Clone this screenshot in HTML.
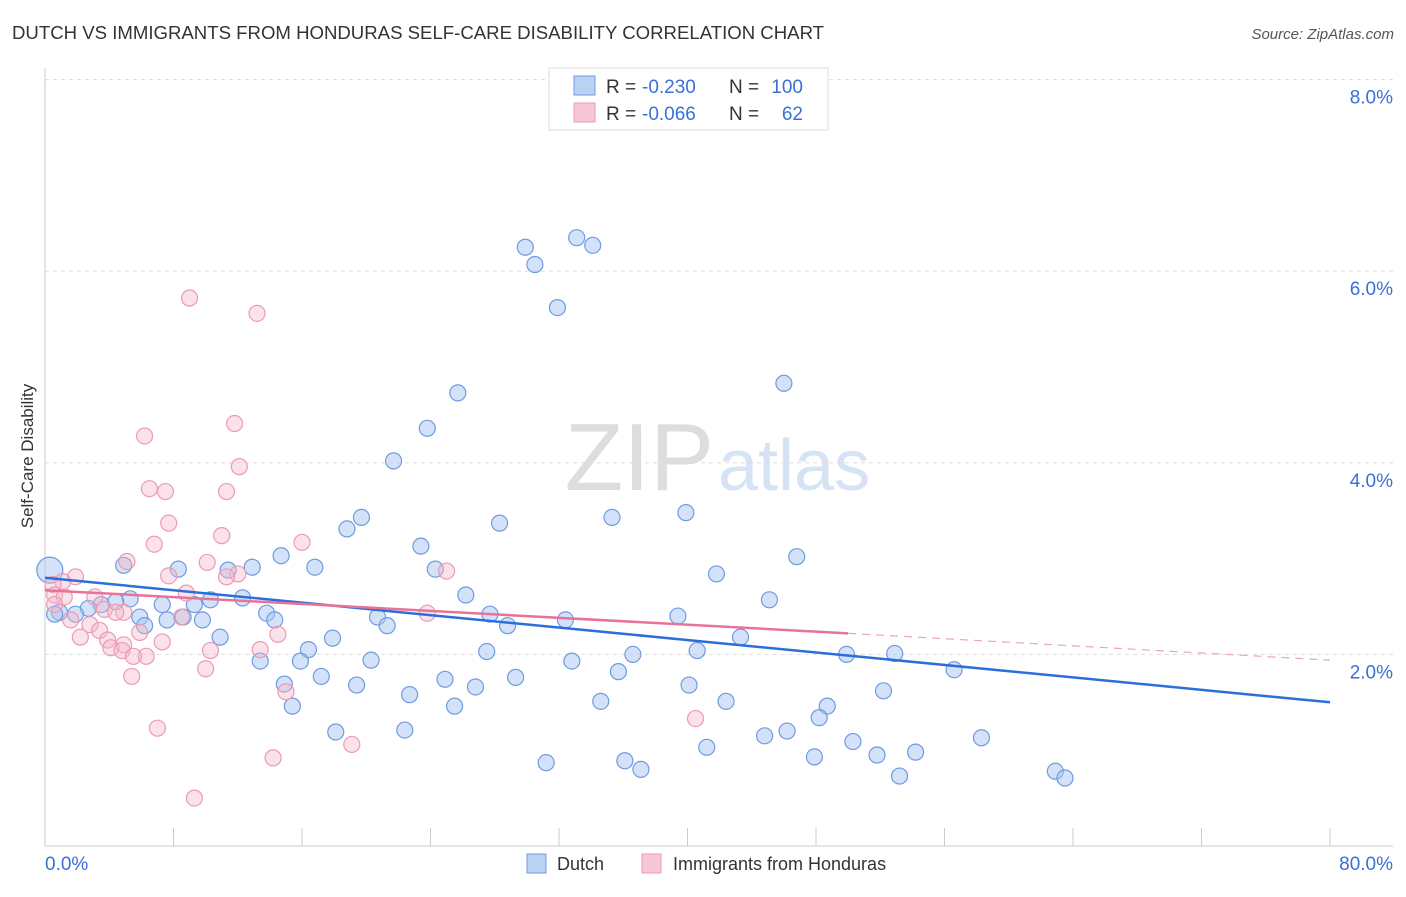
<!DOCTYPE html>
<html><head><meta charset="utf-8"><style>
body{margin:0;background:#fff;font-family:"Liberation Sans",sans-serif;}
svg text{font-family:"Liberation Sans",sans-serif;}
</style></head><body>
<svg id="chart" width="1406" height="892">
<text x="12" y="39" font-size="18.6" fill="#333">DUTCH VS IMMIGRANTS FROM HONDURAS SELF-CARE DISABILITY CORRELATION CHART</text>
<text x="1394" y="39" font-size="15" fill="#555" font-style="italic" text-anchor="end">Source: ZipAtlas.com</text>
<text x="33" y="456" font-size="17" fill="#333" text-anchor="middle" transform="rotate(-90 33 456)">Self-Care Disability</text>
<text x="714" y="490" font-size="96" fill="#ddd" text-anchor="end" font-family="Liberation Serif">ZIP</text>
<text x="718" y="490" font-size="72" fill="#d5e3f5">atlas</text>
<g id="grid"></g><g id="axes"></g><g id="pts"></g><g id="trends"></g>
<g>
<rect x="549" y="68" width="279" height="62" fill="#fff" stroke="#ddd"/>
<rect x="574" y="76" width="21" height="19" fill="#b9d1f3" stroke="#6f9be0"/>
<rect x="574" y="103" width="21" height="19" fill="#f8c7d6" stroke="#ec9ab5"/>
<text x="606" y="93" font-size="19" fill="#333">R =</text>
<text x="642" y="93" font-size="19" fill="#3a6fd8">-0.230</text>
<text x="729" y="93" font-size="19" fill="#333">N =</text>
<text x="803" y="93" font-size="19" fill="#3a6fd8" text-anchor="end">100</text>
<text x="606" y="120" font-size="19" fill="#333">R =</text>
<text x="642" y="120" font-size="19" fill="#3a6fd8">-0.066</text>
<text x="729" y="120" font-size="19" fill="#333">N =</text>
<text x="803" y="120" font-size="19" fill="#3a6fd8" text-anchor="end">62</text>
</g>
<g>
<rect x="527" y="854" width="19" height="19" fill="#b9d1f3" stroke="#6f9be0"/>
<text x="557" y="870" font-size="18" fill="#333">Dutch</text>
<rect x="642" y="854" width="19" height="19" fill="#f8c7d6" stroke="#ec9ab5"/>
<text x="673" y="870" font-size="18" fill="#333">Immigrants from Honduras</text>
</g>
</svg>
<script>
const yTicks=[2,4,6,8];
const xTickLabels=["0.0%","80.0%"];
const dutchX=[29.9,30.5,33.1,34.1,31.9,46.0,25.7,23.8,21.7,19.7,18.8,28.3,35.3,39.9,23.4,46.8,14.7,12.9,11.4,8.3,4.9,16.8,24.3,41.8,26.2,45.1,12.3,10.3,7.3,5.3,4.4,3.5,2.7,1.9,0.9,0.6,9.3,8.6,7.6,9.8,5.9,6.2,13.8,14.3,20.7,21.3,27.7,28.8,32.4,39.4,10.9,17.9,43.3,16.4,27.5,36.6,40.6,49.9,52.9,13.4,15.9,20.3,32.8,56.6,35.7,17.2,29.3,14.9,19.4,24.9,26.8,40.1,52.2,22.7,34.6,42.4,15.4,25.5,48.7,48.2,18.1,22.4,46.2,44.8,58.3,50.3,41.2,54.2,51.8,47.9,31.2,36.1,37.1,53.2,62.9,63.5];
const dutchY=[6.25,6.07,6.35,6.27,5.62,4.83,4.73,4.36,4.02,3.43,3.31,3.37,3.43,3.48,3.13,3.02,3.03,2.91,2.88,2.89,2.93,2.91,2.89,2.84,2.62,2.57,2.59,2.57,2.52,2.58,2.55,2.52,2.48,2.42,2.44,2.42,2.52,2.39,2.36,2.36,2.39,2.30,2.43,2.36,2.39,2.30,2.42,2.30,2.36,2.40,2.18,2.17,2.18,2.05,2.03,2.00,2.04,2.00,2.01,1.93,1.93,1.94,1.93,1.84,1.82,1.77,1.76,1.69,1.68,1.74,1.66,1.68,1.62,1.58,1.51,1.51,1.46,1.46,1.46,1.34,1.19,1.21,1.20,1.15,1.13,1.09,1.03,0.98,0.95,0.93,0.87,0.89,0.80,0.73,0.78,0.71];
const hondX=[9.0,13.2,11.8,6.2,12.1,6.5,7.5,11.3,7.7,11.0,6.8,16.0,5.1,10.1,25.0,12.0,11.3,7.7,1.9,1.1,0.5,0.6,1.2,3.1,8.8,0.6,3.7,4.9,4.4,8.5,23.8,1.6,2.8,3.4,5.9,14.5,2.2,3.9,4.9,7.3,4.1,13.4,10.3,4.8,6.3,5.5,10.0,5.4,15.0,40.5,7.0,19.1,14.2,9.3];
const hondY=[5.72,5.56,4.41,4.28,3.96,3.73,3.70,3.70,3.37,3.24,3.15,3.17,2.97,2.96,2.87,2.84,2.81,2.82,2.81,2.76,2.73,2.62,2.60,2.60,2.64,2.52,2.47,2.44,2.44,2.39,2.43,2.36,2.31,2.25,2.23,2.21,2.18,2.15,2.10,2.13,2.07,2.05,2.04,2.04,1.98,1.98,1.85,1.77,1.61,1.33,1.23,1.06,0.92,0.50];
const dutchTrend=[2.80,1.50];
const hondTrend=[2.67,2.22,1.94];
const X0=45,X1=1330,xs=v=>X0+(X1-X0)*v/80;
const ys=v=>846-95.8*v;
const NS="http://www.w3.org/2000/svg";
function mk(tag,attrs,parent){const e=document.createElementNS(NS,tag);for(const k in attrs)e.setAttribute(k,attrs[k]);document.getElementById(parent).appendChild(e);return e;}
yTicks.forEach(t=>{
 const l=mk('line',{x1:45,x2:1393,y1:ys(t),y2:ys(t),stroke:'#ddd','stroke-dasharray':'4,4'},'grid');
 
 
 const tx=mk('text',{x:1393,y:ys(t)+24,'font-size':19,fill:'#3a6fd8','text-anchor':'end'},'grid');
 tx.textContent=t.toFixed(1)+'%';
 
 
});
const ax=mk('line',{x1:45,x2:45,y1:68,y2:846,stroke:'#ccc'},'axes');


const bx=mk('line',{x1:45,x2:1393,y1:846,y2:846,stroke:'#ccc'},'axes');


for(let i=0;i<=10;i++){const t=mk('line',{x1:xs(i*8),x2:xs(i*8),y1:828,y2:846,stroke:'#ccc'},'axes');
 
 }
xTickLabels.forEach((s,i)=>{const t=mk('text',{x:i?1393:45,y:870,'font-size':19,fill:'#3a6fd8','text-anchor':i?'end':'start'},'axes');t.textContent=s;
 
 });
dutchX.forEach((x,i)=>{const c=mk('circle',{cx:xs(x),cy:ys(dutchY[i]),r:8,fill:'rgba(168,198,242,0.5)',stroke:'#6f9be0','stroke-width':1.2},'pts');
 
 });
const big=mk('circle',{cx:xs(0.3),cy:ys(2.88),r:13,fill:'rgba(168,198,242,0.5)',stroke:'#6f9be0','stroke-width':1.2},'pts');


hondX.forEach((x,i)=>{const c=mk('circle',{cx:xs(x),cy:ys(hondY[i]),r:8,fill:'rgba(246,182,202,0.4)',stroke:'#ec9ab5','stroke-width':1.2},'pts');
 
 });
const d=mk('line',{x1:xs(0),y1:ys(dutchTrend[0]),x2:xs(80),y2:ys(dutchTrend[1]),stroke:'#2a6fdb','stroke-width':2.5},'trends');


const h=mk('line',{x1:xs(0),y1:ys(hondTrend[0]),x2:xs(50),y2:ys(hondTrend[1]),stroke:'#e8729a','stroke-width':2.5},'trends');


const h2=mk('line',{x1:xs(50),y1:ys(hondTrend[1]),x2:xs(80),y2:ys(hondTrend[2]),stroke:'#eaa5bd','stroke-width':1.2,'stroke-dasharray':'8,6'},'trends');


</script>
</body></html>
